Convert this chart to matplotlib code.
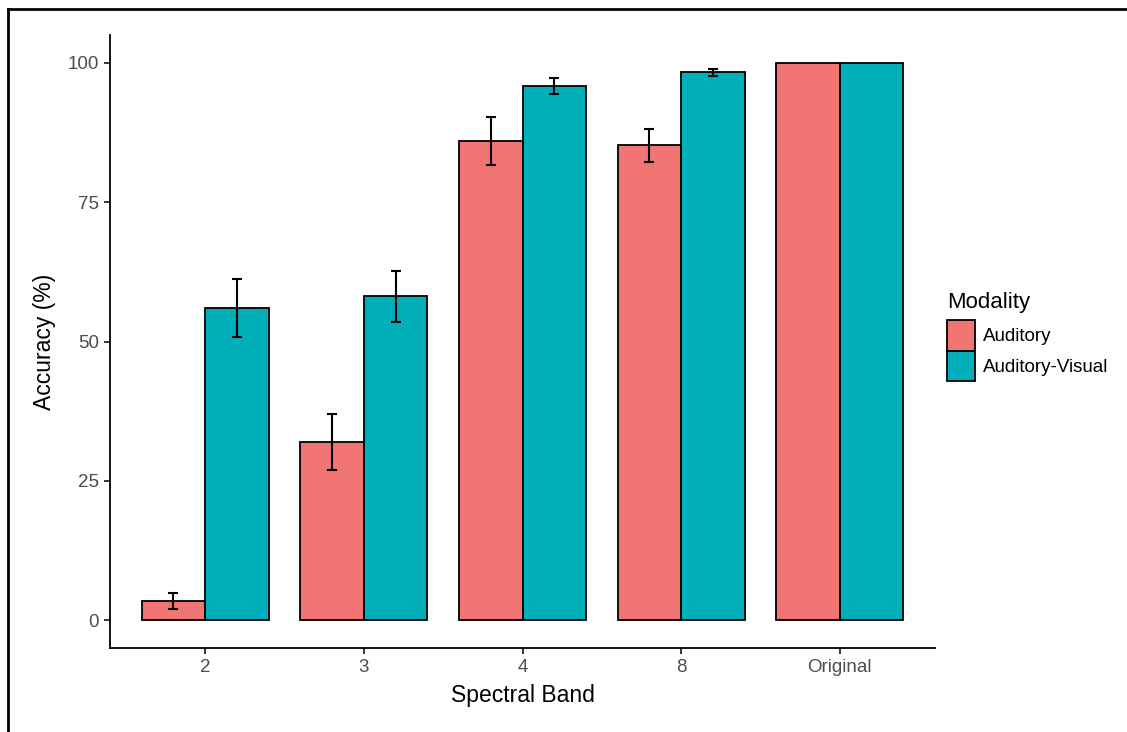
import numpy as np
import matplotlib.pyplot as plt
from matplotlib.patches import Patch
from matplotlib.lines import Line2D

plt.rcParams['font.family'] = ['Liberation Sans', 'DejaVu Sans']

bands = ['2', '3', '4', '8', 'Original']
auditory = [3.4, 32.0, 86.0, 85.2, 100.0]
auditory_err = [1.4, 5.0, 4.3, 3.0, 0.0]
audiovisual = [56.0, 58.1, 95.8, 98.3, 100.0]
audiovisual_err = [5.2, 4.6, 1.4, 0.6, 0.0]

col_a = '#F07573'
col_av = '#00AFB9'

fig = plt.figure(figsize=(11.27, 7.32), dpi=100)
ax = fig.add_axes([110 / 1127, 84 / 732, 825 / 1127, 613 / 732])

x = np.arange(1, len(bands) + 1)
w = 0.4

ax.bar(x - w / 2, auditory, w, color=col_a, edgecolor='black', linewidth=1.3, zorder=2)
ax.bar(x + w / 2, audiovisual, w, color=col_av, edgecolor='black', linewidth=1.3, zorder=2)

# error bars only where there is spread
for xs, vals, errs in [(x - w / 2, auditory, auditory_err), (x + w / 2, audiovisual, audiovisual_err)]:
    for xi, v, e in zip(xs, vals, errs):
        if e > 0:
            ax.errorbar(xi, v, yerr=e, fmt='none', ecolor='black', elinewidth=1.5,
                        capsize=3.5, capthick=1.5, zorder=3)

ax.set_xlim(0.4, len(bands) + 0.6)
ax.set_ylim(-5, 105)
ax.set_xticks(x)
ax.set_xticklabels(bands)
ax.set_yticks([0, 25, 50, 75, 100])

for side in ['top', 'right']:
    ax.spines[side].set_visible(False)
for side in ['left', 'bottom']:
    ax.spines[side].set_linewidth(1.3)

ax.tick_params(axis='both', colors='black', labelcolor='#4D4D4D', labelsize=13.5,
               length=4, width=1.1, pad=4)
ax.set_xlabel('Spectral Band', fontsize=16.5, labelpad=6)
ax.set_ylabel('Accuracy (%)', fontsize=16.5, labelpad=8)

handles = [Patch(facecolor=col_a, edgecolor='black', linewidth=1.3),
           Patch(facecolor=col_av, edgecolor='black', linewidth=1.3)]
leg = fig.legend(handles, ['Auditory', 'Auditory-Visual'], title='Modality',
                 loc='upper left', bbox_to_anchor=(945 / 1127, 1 - 290 / 732),
                 frameon=False, fontsize=13.5, title_fontsize=16,
                 handlelength=1.5, handleheight=2.15, handletextpad=0.4,
                 labelspacing=0.0, borderaxespad=0, borderpad=0.1)
leg._legend_box.align = 'left'
leg._legend_box.sep = 5

# outer frame lines (top and left) from the source figure
fig.add_artist(Line2D([8 / 1127, 8 / 1127], [0, 1 - 9 / 732], color='black', linewidth=2))
fig.add_artist(Line2D([8 / 1127, 1], [1 - 9 / 732, 1 - 9 / 732], color='black', linewidth=2))

fig.savefig('out.png', dpi=100)
